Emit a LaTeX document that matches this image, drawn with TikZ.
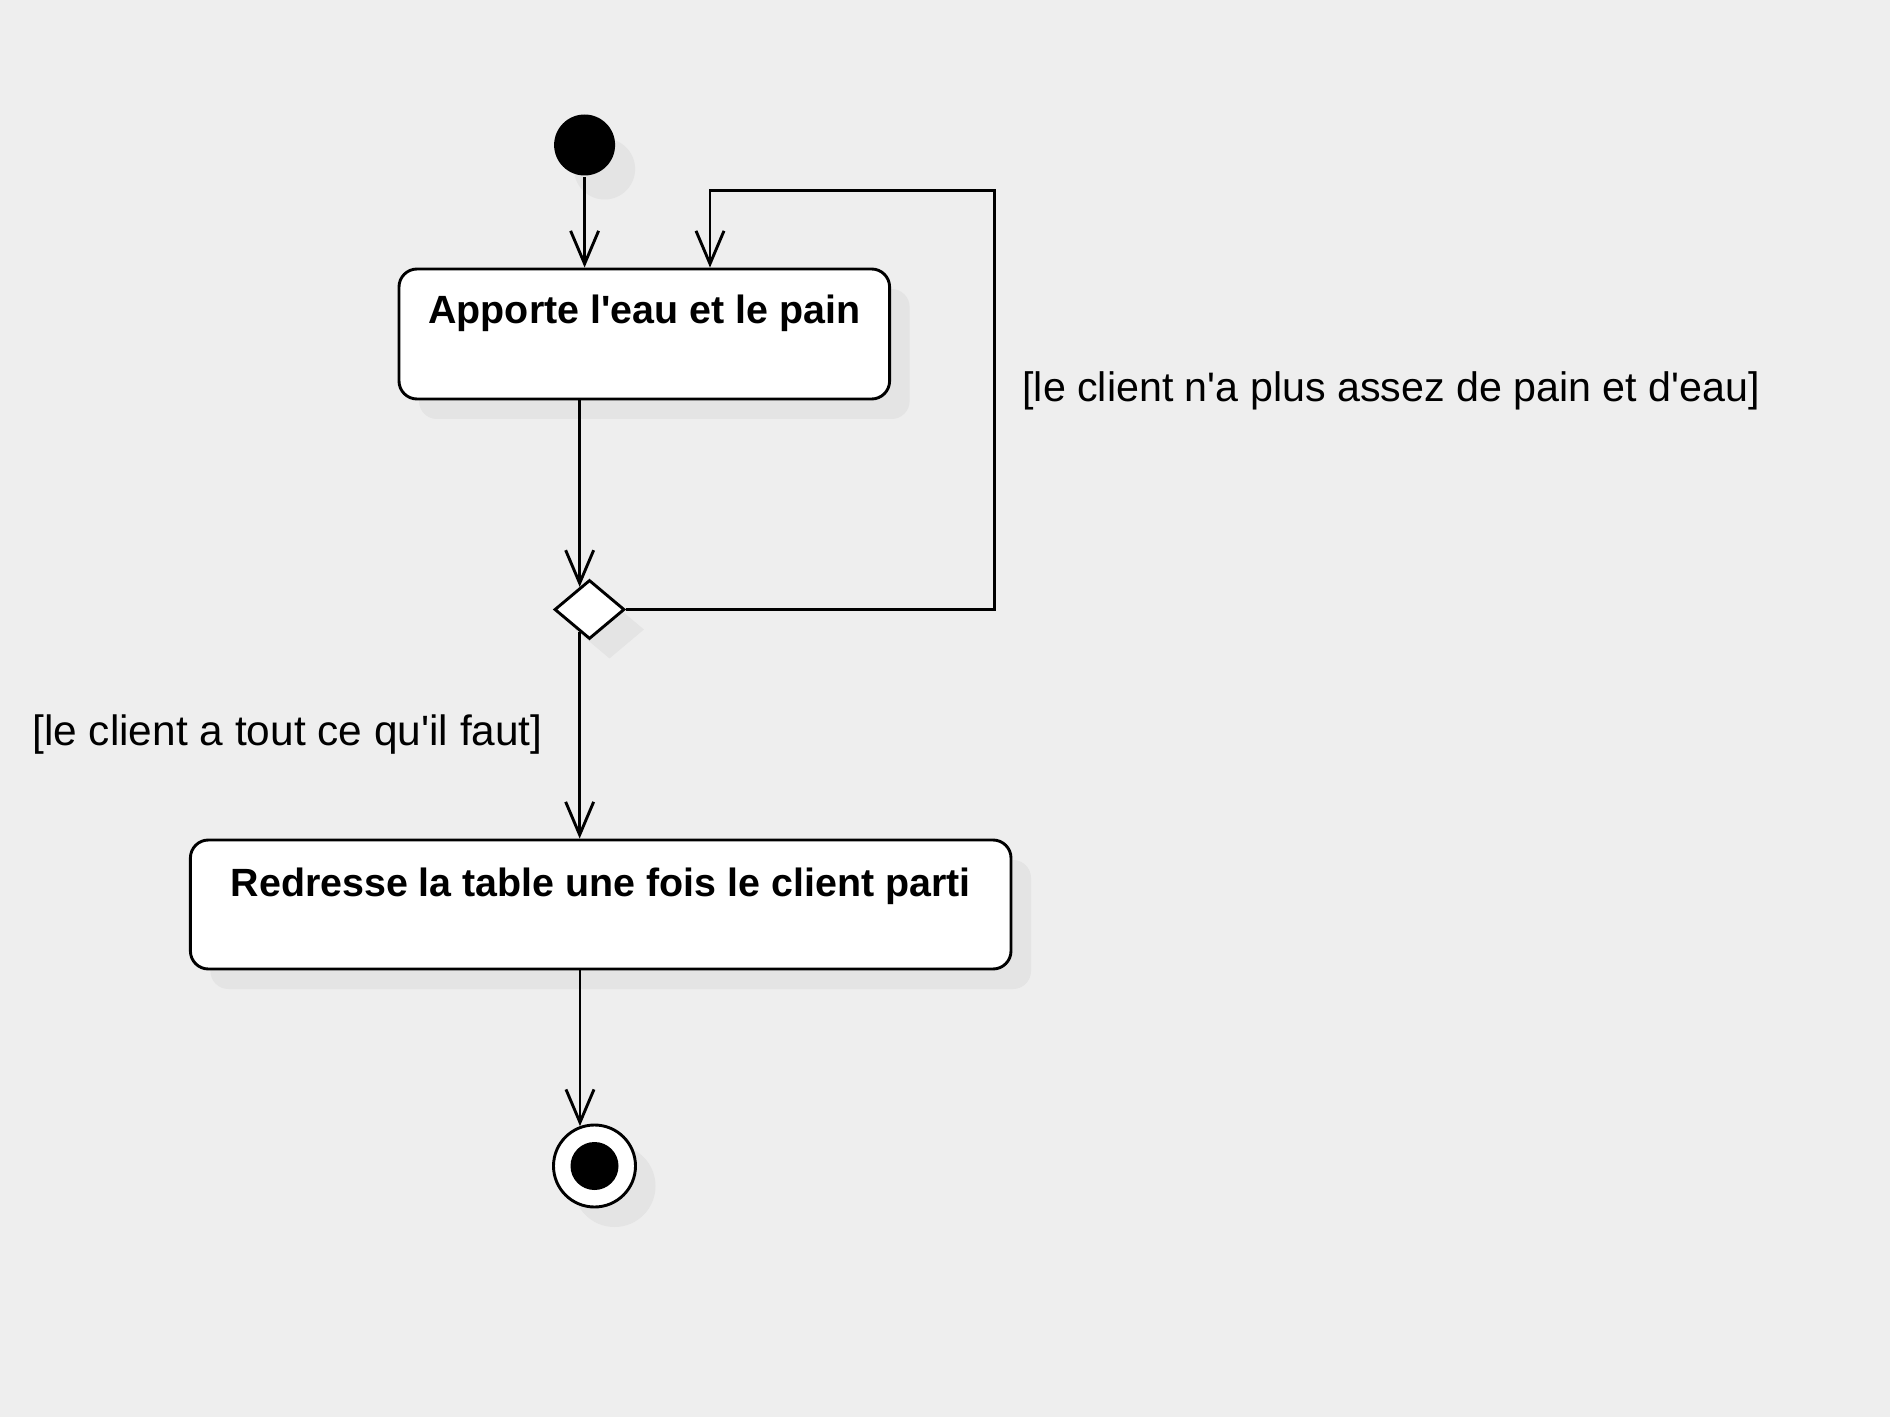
\documentclass[tikz,border=0pt]{standalone}
\usepackage{fontspec}
\setmainfont{Liberation Sans}
\usetikzlibrary{arrows.meta,shapes.geometric,shadows,calc}
\definecolor{bgc}{HTML}{EEEEEE}
\definecolor{shadowc}{HTML}{E4E4E4}
\begin{document}
\begin{tikzpicture}[x=0.5pt,y=-0.5pt,
  line width=1.45pt,
  shd/.style={general shadow={fill=shadowc, shadow xshift=10pt, shadow yshift=-10pt}},
  arr/.style={draw=black, -{Straight Barb[length=16.5pt,width=14pt,line width=1.45pt]}},
  actbox/.style={draw=black, fill=white, rounded corners=9pt, inner sep=0pt, shd},
  boxtext/.style={font=\bfseries\fontsize{19.7pt}{23pt}\selectfont, anchor=base, inner sep=0pt},
  guard/.style={anchor=base west, inner sep=0pt},
  startnode/.style={circle, fill=black, inner sep=0pt, minimum size=30.5pt, general shadow={fill=shadowc, shadow xshift=10pt, shadow yshift=-12pt}},
  endnode/.style={circle, draw=black, fill=white, inner sep=0pt, minimum size=41pt, shd},
  decnode/.style={diamond, draw=black, fill=white, inner sep=0pt, minimum width=35pt, minimum height=29.5pt, shd}]
\fill[bgc] (0,0) rectangle (1890,1417);
\useasboundingbox (0,0) rectangle (1890,1417);

\node[startnode] (start) at (584.6,145) {};
\node[actbox, minimum width=245.3pt, minimum height=65pt] (box1) at (644.3,334) {};
\node[boxtext] (t1) at ([yshift=-28pt]box1.north) {Apporte l\textquotesingle eau et le pain};
\node[decnode] (dec) at (589.5,609.5) {};
\node[actbox, minimum width=410.3pt, minimum height=64.5pt] (box2) at (600.7,904.5) {};
\node[boxtext] (t2) at ([yshift=-29pt]box2.north) {Redresse la table une fois le client parti};
\node[endnode] (end) at (594.5,1166) {};
\node[circle, fill=black, inner sep=0pt, minimum size=24pt] (endin) at (end.center) {};

\node[guard, font=\fontsize{20.6pt}{25pt}\selectfont] (g1) at (1021,402) {[le client n\textquotesingle a plus assez de pain et d\textquotesingle eau]};
\node[guard, font=\fontsize{21.2pt}{25pt}\selectfont] (g2) at (31,745) {[le client a tout ce qu\textquotesingle il faut]};

\coordinate (din) at ($(dec.north)!0.27!(dec.west)$);
\coordinate (dout) at ($(dec.south)!0.27!(dec.west)$);
\coordinate (lr) at (994.5,190.5);
\coordinate (b1in) at ([xshift=32.85pt]box1.north);

\draw[arr] (start.south) -- (start.south |- box1.north);
\draw[arr] (din |- box1.south) -- (din);
\draw[arr] (dec.east) -- (dec.east -| lr) -- (lr) -- (lr -| b1in) -- (b1in);
\draw[arr] (dout) -- (dout |- box2.north);
\draw[arr] (box2.south -| end.110.7) -- (end.110.7);
\end{tikzpicture}
\end{document}
